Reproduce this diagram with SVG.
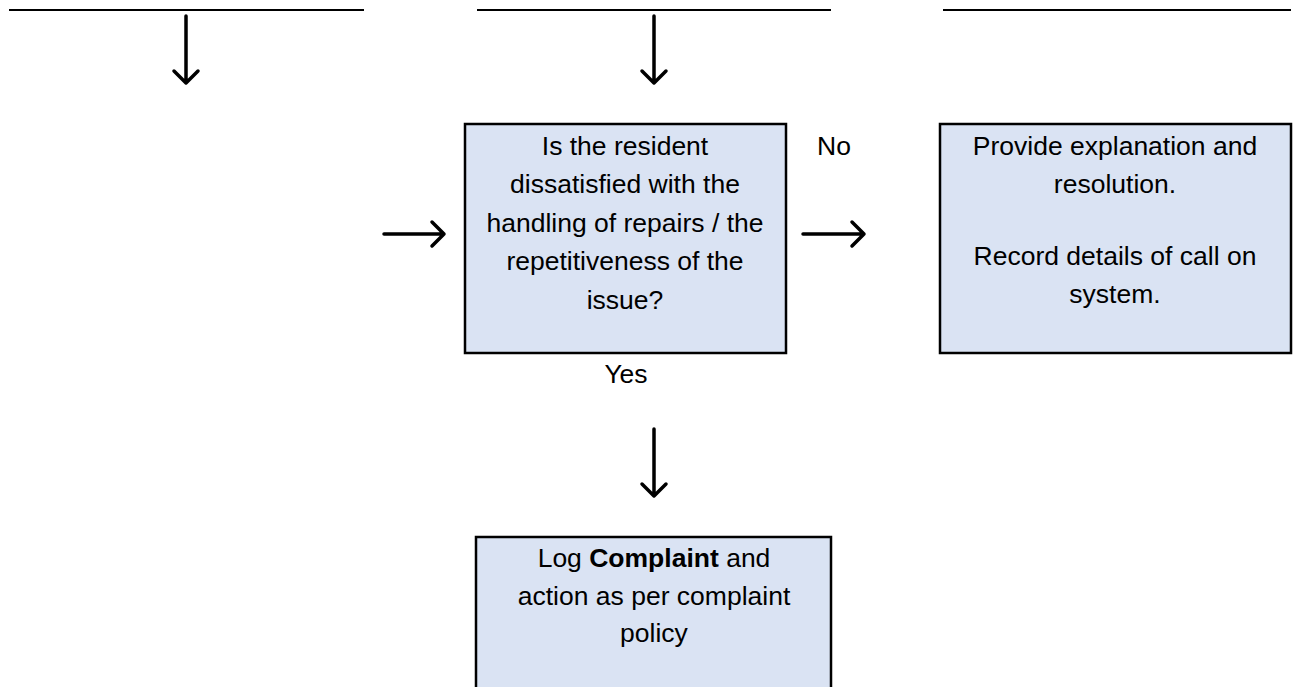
<svg xmlns="http://www.w3.org/2000/svg" width="1293" height="687" viewBox="0 0 1293 687">
<style>
.box{fill:#dae3f3;stroke:#000;stroke-width:2.5}
.t{font-family:"Liberation Sans",Arial,sans-serif;font-size:26.5px;fill:#000;text-anchor:middle}
.ln{stroke:#000;stroke-width:2;fill:none}
.ar{stroke:#000;stroke-width:3.5;fill:none;stroke-linecap:round;stroke-linejoin:round}
</style>
<rect width="1293" height="687" fill="#fff"/>
<g id="connectors">
<line class="ln" x1="9" y1="10" x2="364" y2="10"/>
<line class="ln" x1="477" y1="10" x2="831" y2="10"/>
<line class="ln" x1="943" y1="10" x2="1291" y2="10"/>
<path class="ar" d="M186 16 V83 M174 71 L186 83 L198 71"/>
<path class="ar" d="M654 16 V83 M642 71 L654 83 L666 71"/>
<path class="ar" d="M384 234 H444 M432 222 L444 234 L432 246"/>
<path class="ar" d="M803 234 H864 M852 222 L864 234 L852 246"/>
<path class="ar" d="M654 429 V496 M642 484 L654 496 L666 484"/>
<text class="t" x="834" y="155">No</text>
<text class="t" x="626" y="383">Yes</text>
</g>
<g id="decision">
<rect class="box" x="465" y="124" width="321" height="229"/>
<text class="t" x="625" y="155">Is the resident</text>
<text class="t" x="625" y="193">dissatisfied with the</text>
<text class="t" x="625" y="232">handling of repairs / the</text>
<text class="t" x="625" y="270">repetitiveness of the</text>
<text class="t" x="625" y="309">issue?</text>
</g>
<g id="resolution">
<rect class="box" x="940" y="124" width="351" height="229"/>
<text class="t" x="1115" y="155">Provide explanation and</text>
<text class="t" x="1115" y="193">resolution.</text>
<text class="t" x="1115" y="265">Record details of call on</text>
<text class="t" x="1115" y="303">system.</text>
</g>
<g id="complaint">
<rect class="box" x="476" y="537" width="355" height="160"/>
<text class="t" x="654" y="567">Log <tspan font-weight="bold">Complaint</tspan> and</text>
<text class="t" x="654" y="605">action as per complaint</text>
<text class="t" x="654" y="642">policy</text>
</g>
</svg>
